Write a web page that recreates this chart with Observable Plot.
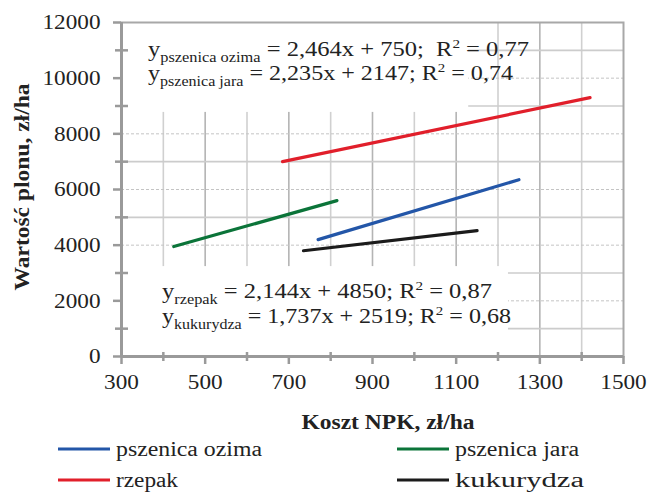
<!DOCTYPE html>
<html>
<head>
<meta charset="utf-8">
<style>
  html, body { margin: 0; padding: 0; background: #fff; }
  body, body *, svg text, svg tspan { font-family: 'Liberation Serif', 'DejaVu Serif', 'Noto Serif', Tinos, 'Times New Roman', Times, serif !important; }
</style>
<script src="https://cdn.jsdelivr.net/npm/d3@7"></script>
<script src="https://cdn.jsdelivr.net/npm/@observablehq/plot@0.6"></script>
</head>
<body>
<div id="wrap" style="width:651px;color:#222">
  <div id="chart"></div>
  <div id="legend"></div>
</div>
<script>
// ---- data ----
const series = ["pszenica ozima", "pszenica jara", "rzepak", "kukurydza"];
const colors = ["#2356a8", "#0b7439", "#e11f2b", "#1b1b1b"];
const xStart = [770, 425, 685, 735];
const yStart = [4200, 3950, 7000, 3800];
const xEnd = [1250, 815, 1420, 1150];
const yEnd = [6350, 5600, 9300, 4520];

const xTicks = [300, 500, 700, 900, 1100, 1300, 1500];
const xMinor = [400, 600, 800, 1000, 1200, 1400];
const yTicks = [0, 2000, 4000, 6000, 8000, 10000, 12000];
const yMinor = [1000, 3000, 5000, 7000, 9000, 11000];

const equationsTop = [
  {name: "pszenica ozima", rest: " = 2,464x + 750;  R", r2: " = 0,77"},
  {name: "pszenica jara", rest: " = 2,235x + 2147; R", r2: " = 0,74"}
];
const equationsBottom = [
  {name: "rzepak", rest: " = 2,144x + 4850; R", r2: " = 0,87"},
  {name: "kukurydza", rest: " = 1,737x + 2519; R", r2: " = 0,68"}
];

// line table built from the arrays
const lineData = [];
series.forEach((s, i) => {
  lineData.push({s, x: xStart[i], y: yStart[i]});
  lineData.push({s, x: xEnd[i], y: yEnd[i]});
});

// annotation boxes (data units)
const boxes = [
  {x1: 302, x2: 1130, y1: 8770, y2: 12000},
  {x1: 302, x2: 1225, y1: 0, y2: 3230}
];

const FONT = "'Liberation Serif', 'DejaVu Serif', 'Noto Serif', 'Times New Roman', serif";
const W = 651, H = 436;
const plot = Plot.plot({
  width: W, height: H,
  marginLeft: 121, marginRight: 28, marginTop: 22, marginBottom: 80,
  style: {fontFamily: FONT, fontSize: "21px", color: "#222", background: "#fff"},
  x: {domain: [300, 1500], label: null},
  y: {domain: [0, 12000], label: null},
  color: {domain: series, range: colors},
  marks: [
    Plot.ruleX(xMinor, {stroke: "#d0d0d0", strokeWidth: 1.6}),
    Plot.ruleX(xTicks.slice(1, -1), {stroke: "#b4b4b4", strokeWidth: 1.6}),
    Plot.ruleY(yMinor, {stroke: "#cccccc", strokeWidth: 1.6}),
    Plot.ruleY(yTicks.slice(1, -1), {stroke: "#c4c4c4", strokeWidth: 1, strokeDasharray: "3,2"}),
    Plot.rect(boxes, {x1: "x1", x2: "x2", y1: "y1", y2: "y2", fill: "#fff"}),
    Plot.frame({stroke: "#a8a8a8", strokeWidth: 2}),
    Plot.ruleX([300], {stroke: "#9a9a9a", strokeWidth: 3}),
    Plot.ruleY([0], {stroke: "#9a9a9a", strokeWidth: 3}),
    Plot.axisY({ticks: yTicks, tickSize: 8, tickPadding: 13, stroke: "#9a9a9a", strokeWidth: 2.5, tickFormat: d => String(d), fill: "#222"}),
    Plot.axisY({ticks: yMinor, tickSize: 13, dx: 7, text: null, stroke: "#9a9a9a", strokeWidth: 2.5}),
    Plot.axisX({ticks: xTicks, tickSize: 8, tickPadding: 10, stroke: "#9a9a9a", strokeWidth: 2.5, tickFormat: d => String(d), fill: "#222"}),
    Plot.axisX({ticks: xMinor, tickSize: 9, dy: -4, text: null, stroke: "#9a9a9a", strokeWidth: 2.5}),
    Plot.line(lineData, {x: "x", y: "y", z: "s", stroke: "s", strokeWidth: 3.2})
  ]
});
document.getElementById("chart").appendChild(plot);

const svg = d3.select(plot);
// pin tick-label widths to the reference's serif proportions
svg.selectAll("g[aria-label='y-axis tick label'] text, g[aria-label='x-axis tick label'] text").each(function() {
  const n = this.textContent.length;
  this.setAttribute("textLength", n * 11.6);
  this.setAttribute("lengthAdjust", "spacingAndGlyphs");
});

// axis titles
svg.append("text").attr("x", 388).attr("y", 429).attr("text-anchor", "middle")
  .attr("font-weight", "bold").attr("font-size", 20).attr("fill", "#222")
  .attr("textLength", 173).attr("lengthAdjust", "spacingAndGlyphs").text("Koszt NPK, zł/ha");
svg.append("text").attr("transform", "translate(29,187) rotate(-90)").attr("text-anchor", "middle")
  .attr("font-weight", "bold").attr("font-size", 20).attr("fill", "#222")
  .attr("textLength", 207).attr("lengthAdjust", "spacingAndGlyphs").text("Wartość plonu, zł/ha");

function eq(g, x, y, e, len) {
  const t = g.append("text").attr("x", x).attr("y", y).attr("text-anchor", "start")
    .attr("font-size", 21).attr("fill", "#222")
    .attr("textLength", len).attr("lengthAdjust", "spacingAndGlyphs");
  t.append("tspan").text("y");
  t.append("tspan").attr("font-size", 14).attr("dy", 6).text(e.name);
  t.append("tspan").attr("dy", -6).text(e.rest);
  t.append("tspan").attr("font-size", 13).attr("dy", -8).text("2");
  t.append("tspan").attr("dy", 8).text(e.r2);
}
eq(svg, 148, 56, equationsTop[0], 381);
eq(svg, 148, 80, equationsTop[1], 365);
eq(svg, 162, 298, equationsBottom[0], 330);
eq(svg, 162, 323, equationsBottom[1], 349);

// legend (below the plot)
const legendX = [58, 397, 58, 397];
const legendY = [13, 13, 44, 44];
const legendLen = [146, 124, 62, 129];
const lsvg = d3.select("#legend").append("svg").attr("width", 651).attr("height", 56).style("display", "block");
series.forEach((s, i) => {
  lsvg.append("line").attr("x1", legendX[i]).attr("x2", legendX[i] + 52)
    .attr("y1", legendY[i]).attr("y2", legendY[i]).attr("stroke", colors[i]).attr("stroke-width", 3);
  lsvg.append("text").attr("x", legendX[i] + 58).attr("y", legendY[i] + 7)
    .attr("font-size", 20).attr("fill", "#222")
    .attr("textLength", legendLen[i]).attr("lengthAdjust", "spacingAndGlyphs").text(s);
});
</script>
</body>
</html>
